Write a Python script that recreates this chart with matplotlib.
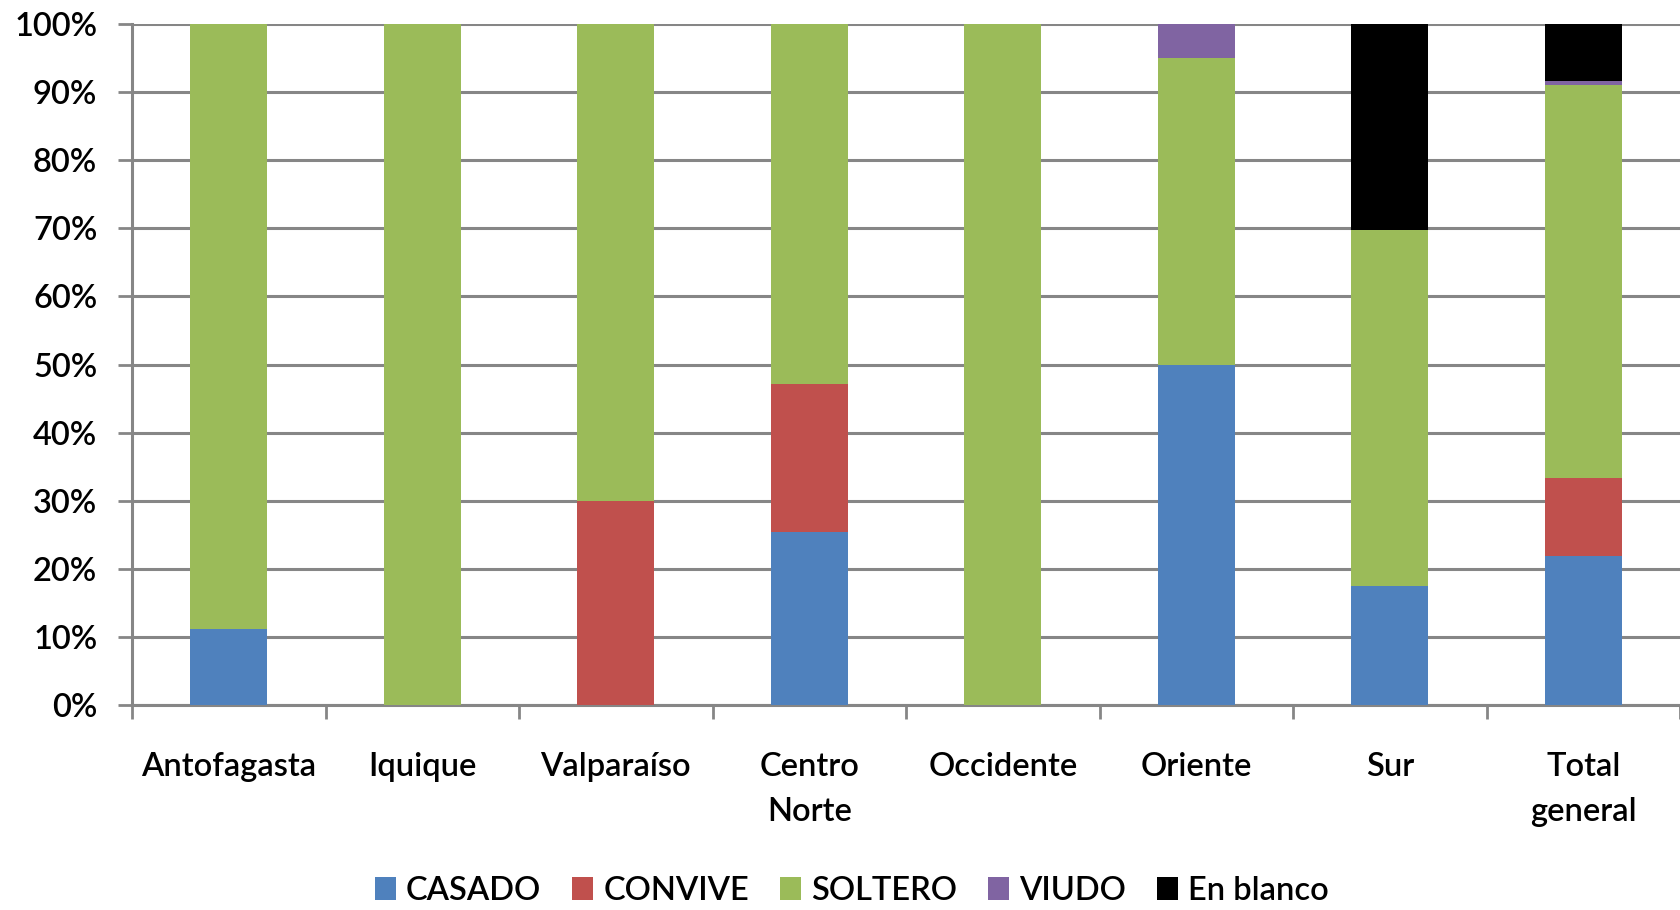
import matplotlib
matplotlib.use("Agg")
import matplotlib.pyplot as plt
import numpy as np
from matplotlib.ticker import PercentFormatter, FixedLocator

categories = ["Antofagasta", "Iquique", "Valparaíso", "Centro\nNorte", "Occidente",
              "Oriente", "Sur", "Total\ngeneral"]
casado    = [11.1, 0.0, 0.0, 25.4, 0.0, 50.0, 17.4, 21.9]
convive   = [0.0, 0.0, 30.0, 21.8, 0.0, 0.0, 0.0, 11.4]
soltero   = [88.9, 100.0, 70.0, 52.8, 100.0, 45.0, 52.4, 57.7]
viudo     = [0.0, 0.0, 0.0, 0.0, 0.0, 5.0, 0.0, 0.6]
en_blanco = [0.0, 0.0, 0.0, 0.0, 0.0, 0.0, 30.2, 8.4]

series = [("CASADO", casado, "#4F81BD"),
          ("CONVIVE", convive, "#C0504D"),
          ("SOLTERO", soltero, "#9BBB59"),
          ("VIUDO", viudo, "#8064A2"),
          ("En blanco", en_blanco, "#000000")]

plt.rcParams['font.family'] = ['Lato', 'DejaVu Sans']
plt.rcParams['font.weight'] = 'semibold'
FS = 23.5

fig = plt.figure(figsize=(16.8, 9.1), dpi=100)
ax = fig.add_axes([0.0786, 0.2253, 0.9214, 0.7483])

x = np.arange(len(categories))
bottom = np.zeros(len(categories))
for name, vals, col in series:
    v = np.array(vals)
    ax.bar(x, v, 0.4, bottom=bottom, color=col, label=name, zorder=3, linewidth=0)
    bottom += v

ax.set_xlim(-0.5, len(categories) - 0.5)
ax.set_ylim(0, 100)
ax.set_yticks(np.arange(0, 101, 10))
ax.yaxis.set_major_formatter(PercentFormatter(decimals=0))
ax.grid(axis='y', color='#868686', linewidth=2.2, zorder=0)
ax.set_axisbelow(True)

ax.set_xticks(x)
ax.set_xticklabels(categories, fontsize=FS, linespacing=1.6)
ax.xaxis.set_minor_locator(FixedLocator(np.arange(-0.5, len(categories), 1.0)))
ax.tick_params(axis='x', which='major', length=0, pad=34)
ax.tick_params(axis='x', which='minor', length=10, width=2, color='#868686')
ax.tick_params(axis='y', length=10, width=2, color='#868686', labelsize=FS, pad=15)
for lab in ax.get_xticklabels():
    lab.set_verticalalignment('top')

for s in ['top', 'right']:
    ax.spines[s].set_visible(False)
for s in ['left', 'bottom']:
    ax.spines[s].set_color('#868686')
    ax.spines[s].set_linewidth(2.2)

leg = fig.legend(loc='center', bbox_to_anchor=(0.507, 0.021), ncol=5, frameon=False,
                 fontsize=FS, handlelength=0.65, handleheight=0.7, handletextpad=0.3,
                 columnspacing=0.95)

fig.savefig("out.png", dpi=100)
